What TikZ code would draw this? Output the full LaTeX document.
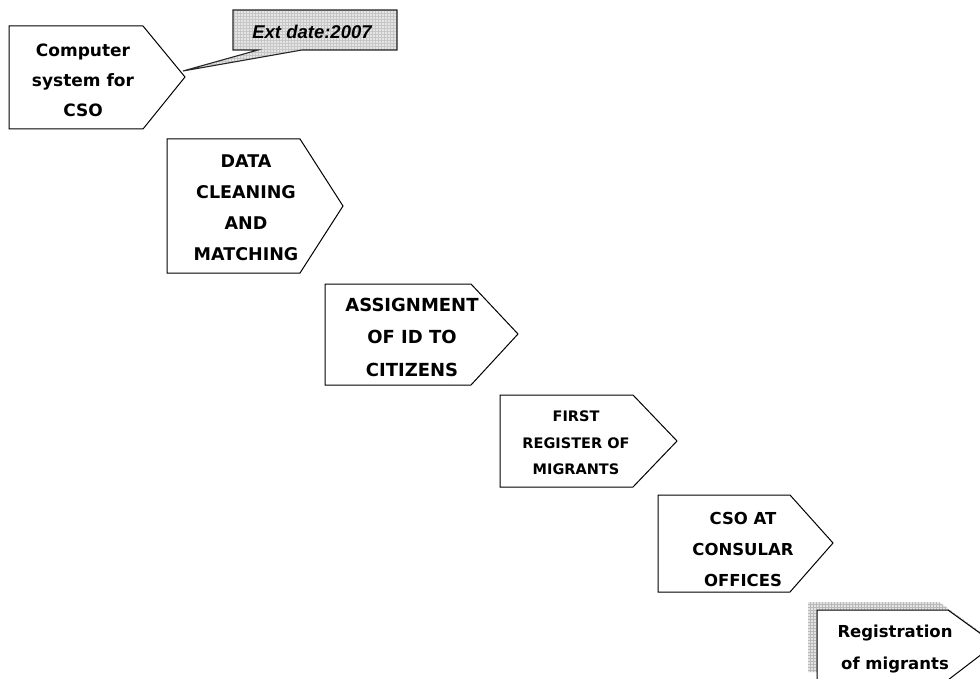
\documentclass[tikz,border=0pt]{standalone}
\usepackage{fontspec}
\newfontfamily\boxfont{DejaVu Sans}
\newfontfamily\callfont{Liberation Sans}
\usetikzlibrary{patterns}
\tikzset{
  pentbox/.style={draw=black, line width=1pt, fill=white, line join=miter},
  gridfill/.style={fill=gray!22, pattern color=gray!55},
  boxtext/.style={align=center, inner sep=0pt, text=black, font=\boxfont\bfseries\fontsize{17}{31}\selectfont},
  smalltext/.style={boxtext, font=\boxfont\bfseries\fontsize{14.5}{26.5}\selectfont},
}
\begin{document}
\begin{tikzpicture}[x=1pt,y=-1pt]
\useasboundingbox (0,0) rectangle (980,679);
\clip (0,0) rectangle (980,679);
% callout
\path[fill=gray!20] (233,10) -- (397,10) -- (397,50) -- (302,50) -- (183,71) -- (258,50) -- (233,50) -- cycle;
\path[pattern=grid, pattern color=gray!45] (233,10) -- (397,10) -- (397,50) -- (302,50) -- (183,71) -- (258,50) -- (233,50) -- cycle;
\draw[black!85, line width=1.1pt, line join=miter] (233,10) -- (397,10) -- (397,50) -- (302,50) -- (183,71) -- (258,50) -- (233,50) -- cycle;
\node[font=\callfont\bfseries\itshape\fontsize{18.5}{20}\selectfont, inner sep=0pt] (ext) at (312,32) {Ext date:2007};
% box 1
\draw[pentbox] (9,26) -- (143,26) -- (185,77) -- (143,129) -- (9,129) -- cycle;
\node[boxtext, font=\boxfont\bfseries\fontsize{17}{30}\selectfont] (b1) at (83,80) {Computer\\system for\\CSO};
% box 2
\draw[pentbox] (167,139) -- (300,139) -- (343,206) -- (300,273) -- (167,273) -- cycle;
\node[boxtext, font=\boxfont\bfseries\fontsize{17.5}{31}\selectfont] (b2) at (246,208) {DATA\\CLEANING\\AND\\MATCHING};
% box 3
\draw[pentbox] (325,284) -- (471,284) -- (518,334) -- (471,385) -- (325,385) -- cycle;
\node[boxtext, font=\boxfont\bfseries\fontsize{18}{32.5}\selectfont] (b3) at (412,337) {ASSIGNMENT\\OF ID TO\\CITIZENS};
% box 4
\draw[pentbox] (500,395) -- (633,395) -- (677,441) -- (633,487) -- (500,487) -- cycle;
\node[smalltext] (b4) at (576,443) {FIRST\\REGISTER OF\\MIGRANTS};
% box 5
\draw[pentbox] (658,495) -- (790,495) -- (833,543) -- (790,592) -- (658,592) -- cycle;
\node[boxtext, font=\boxfont\bfseries\fontsize{16.5}{31}\selectfont] (b5) at (743,549) {CSO AT\\CONSULAR\\OFFICES};
% box 6 with shadow
\path[gridfill] (808,602) -- (939,602) -- (986,636) -- (939,672) -- (808,672) -- cycle;
\path[pattern=grid, pattern color=gray!55] (808,602) -- (939,602) -- (986,636) -- (939,672) -- (808,672) -- cycle;
\draw[pentbox] (817,610) -- (948,610) -- (995,644) -- (948,680) -- (817,680) -- cycle;
\node[boxtext, font=\boxfont\bfseries\fontsize{16.5}{32}\selectfont] (b6) at (895,649) {Registration\\of migrants};
\end{tikzpicture}
\end{document}
